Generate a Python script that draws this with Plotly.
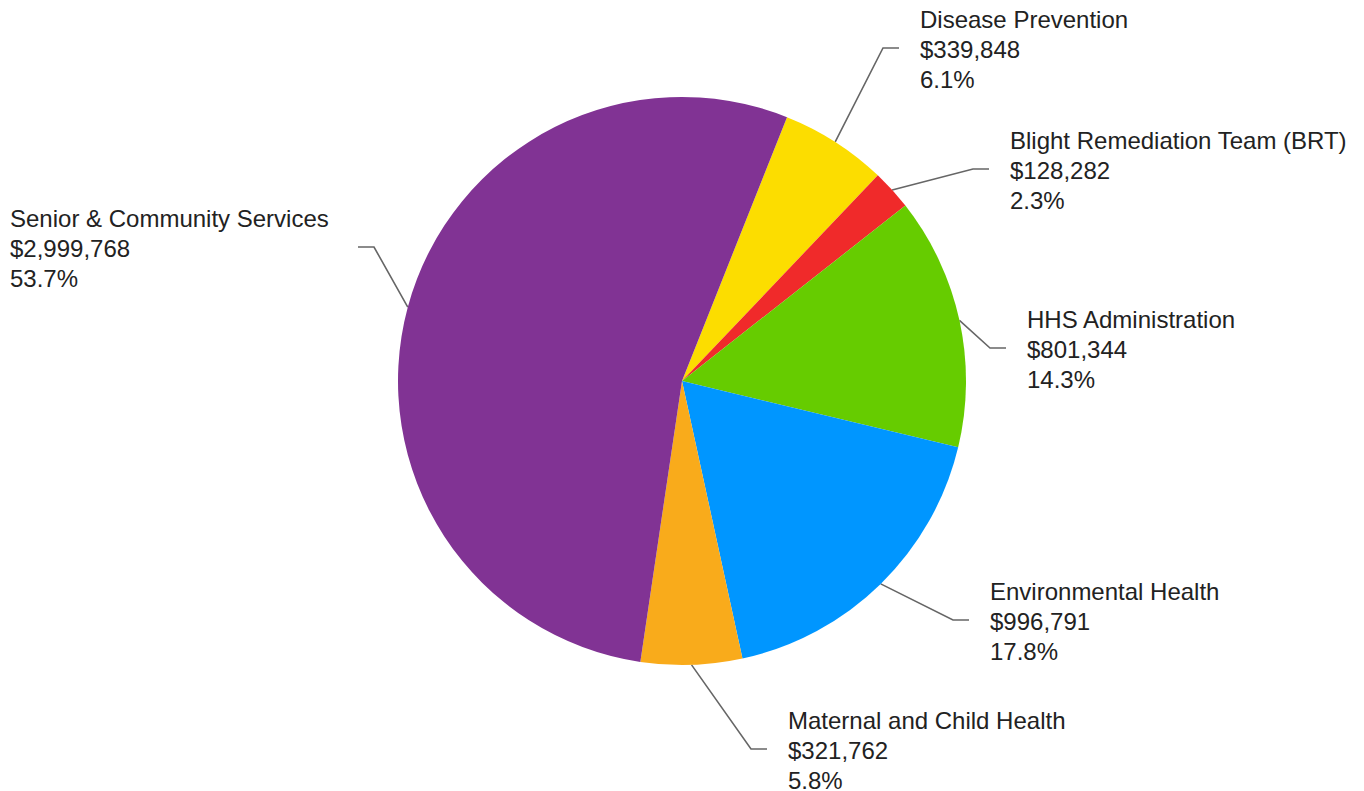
import math
import plotly.graph_objects as go

# Budget by program
programs = [
    "Disease Prevention",
    "Blight Remediation Team (BRT)",
    "HHS Administration",
    "Environmental Health",
    "Maternal and Child Health",
    "Senior & Community Services",
]
amounts = [339848, 128282, 801344, 996791, 321762, 2999768]
colors = ["#FCDD00", "#F02A2A", "#66CC00", "#0096FF", "#F9AB1B", "#813394"]

# Canvas and pie geometry (pixels)
W, H = 1364, 791
CX, CY, R = 682, 381, 284
ROTATION = 21.7

# Label placement: elbow point of the leader line, and left edge of the text block
label_elbow = [(883, 48), (973, 169), (990, 348), (953, 620), (751, 749), (374, 247)]
label_text_x = [918, 1008, 1025, 988, 786, 8]
LINE_GAP = 30
FONT = "Liberation Sans, Arial, Helvetica, sans-serif"

total = sum(amounts)

fig = go.Figure()

fig.add_trace(go.Pie(
    labels=programs,
    values=amounts,
    marker=dict(colors=colors, line=dict(width=0)),
    sort=False,
    direction="clockwise",
    rotation=ROTATION,
    textinfo="none",
    hoverinfo="label+value+percent",
    showlegend=False,
    domain=dict(x=[(CX - R) / W, (CX + R) / W], y=[1 - (CY + R) / H, 1 - (CY - R) / H]),
))

annotations = []
cum = 0.0
for i, (name, val) in enumerate(zip(programs, amounts)):
    frac = val / total
    mid = math.radians(ROTATION + (cum + frac / 2) * 360)
    cum += frac
    sx = CX + R * math.sin(mid)
    sy = CY - R * math.cos(mid)
    ex, ey = label_elbow[i]
    right_side = label_text_x[i] > ex
    tx_end = ex + 16 if right_side else ex - 16
    fig.add_trace(go.Scatter(
        x=[sx, ex, tx_end], y=[sy, ey, ey], mode="lines",
        line=dict(color="#666666", width=1.6),
        hoverinfo="skip", showlegend=False, xaxis="x", yaxis="y",
    ))
    lines = [name, f"${val:,}", f"{frac * 100:.1f}%"]
    for k, txt in enumerate(lines):
        annotations.append(dict(
            x=label_text_x[i], y=ey + (k - 1) * LINE_GAP + 1,
            xref="x", yref="y", text=txt, showarrow=False,
            xanchor="left", yanchor="middle",
            font=dict(family=FONT, size=24, color="#222222"),
        ))

fig.update_layout(
    width=W, height=H,
    margin=dict(l=0, r=0, t=0, b=0),
    paper_bgcolor="white", plot_bgcolor="rgba(0,0,0,0)",
    xaxis=dict(range=[0, W], visible=False, fixedrange=True, domain=[0, 1]),
    yaxis=dict(range=[H, 0], visible=False, fixedrange=True, domain=[0, 1]),
    annotations=annotations,
    font=dict(family=FONT),
)

fig.write_html("out.html", config={"displayModeBar": False})
